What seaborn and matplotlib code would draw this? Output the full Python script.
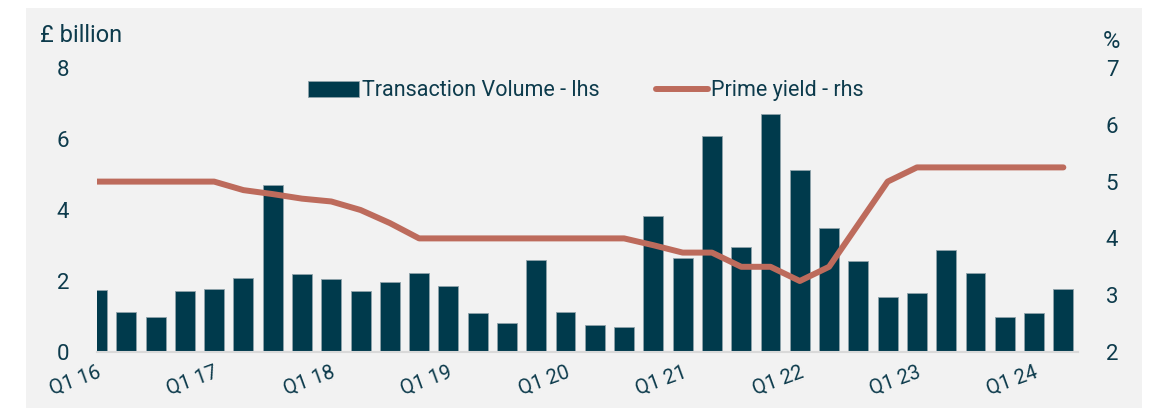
import numpy as np
import pandas as pd
import seaborn as sns
import matplotlib.pyplot as plt
from matplotlib.patches import Rectangle

# quarterly data Q1 16 .. Q2 24
quarters = [f"Q{q} {y}" for y in range(16, 25) for q in range(1, 5)][:34]
volume = [1.75, 1.14, 0.98, 1.73, 1.78, 2.08, 4.70, 2.21, 2.05, 1.73,
          1.96, 2.23, 1.87, 1.10, 0.81, 2.60, 1.13, 0.75, 0.71, 3.83,
          2.65, 6.08, 2.95, 6.71, 5.12, 3.50, 2.57, 1.56, 1.65, 2.88,
          2.22, 0.98, 1.09, 1.77]
prime_yield = [5.0, 5.0, 5.0, 5.0, 5.0, 4.85, 4.78, 4.7, 4.65, 4.5,
               4.27, 4.0, 4.0, 4.0, 4.0, 4.0, 4.0, 4.0, 4.0, 3.88,
               3.75, 3.75, 3.5, 3.5, 3.25, 3.5, 4.25, 5.0, 5.25, 5.25,
               5.25, 5.25, 5.25, 5.25]
tick_labels = ["Q1 16", "Q1 17", "Q1 18", "Q1 19", "Q1 20", "Q1 21", "Q1 22", "Q1 23", "Q1 24"]

df = pd.DataFrame({"quarter": quarters, "volume": volume, "yield": prime_yield})
df["pos"] = np.arange(len(df))

BAR = "#003a4c"
LINE = "#bd6b5c"
TXT = "#0d3b4c"
BG = "#f2f2f2"

sns.set_style("white")
plt.rcParams["font.family"] = ["Roboto", "DejaVu Sans"]

fig = plt.figure(figsize=(11.53, 4.09), dpi=100)
fig.patch.set_facecolor("white")
fig.patches.append(Rectangle((26 / 1153, 1 - 408 / 409), (1142 - 26) / 1153, 400 / 409,
                             transform=fig.transFigure, facecolor=BG, edgecolor="none", zorder=-5))

ax = fig.add_axes([97 / 1153, 1 - 352 / 409, (1078 - 97) / 1153, 284 / 409])
ax.set_facecolor("none")
sns.barplot(data=df, x="quarter", y="volume", color=BAR, width=0.68, saturation=1,
            edgecolor="#8fa3aa", linewidth=0.6, ax=ax, label="Transaction Volume - lhs")
ax.set_xlim(0, 33.5)
ax.set_ylim(0, 8)
ax.set_yticks([0, 2, 4, 6, 8])
ax.set_xticks(range(0, 34, 4))
ax.set_xticklabels(tick_labels, rotation=20, ha="right", rotation_mode="anchor")
ax.set_xlabel("")
ax.set_ylabel("")
for s in ["top", "right", "left"]:
    ax.spines[s].set_visible(False)
ax.spines["bottom"].set_color("#d9d9d9")
ax.spines["bottom"].set_linewidth(1.5)
ax.tick_params(axis="x", colors="#d9d9d9", length=5, width=1.2, labelcolor=TXT, labelsize=14.5, pad=3)
ax.tick_params(axis="y", length=0, labelcolor=TXT, labelsize=16, pad=20)

ax2 = ax.twinx()
sns.lineplot(data=df, x="pos", y="yield", color=LINE, linewidth=4.3, ax=ax2,
             label="Prime yield - rhs", solid_capstyle="round")
ax2.set_ylim(2, 7)
ax2.set_yticks([2, 3, 4, 5, 6, 7])
ax2.set_xlim(0, 33.5)
ax2.set_ylabel("")
ax2.set_xlabel("")
for s in ["top", "right", "left", "bottom"]:
    ax2.spines[s].set_visible(False)
ax2.tick_params(axis="y", length=0, labelcolor=TXT, labelsize=16, pad=20)

h1, l1 = ax.get_legend_handles_labels()
h2, l2 = ax2.get_legend_handles_labels()
if ax.get_legend():
    ax.get_legend().remove()
ax2.legend(h1 + h2, l1 + l2, loc="center", bbox_to_anchor=(0.498, 0.92), ncol=2, frameon=False,
           fontsize=15.5, labelcolor=TXT, handlelength=2.4, handleheight=0.75,
           handletextpad=0.15, columnspacing=2.6)

fig.text(40 / 1153, 1 - 36 / 409, "£ billion", color=TXT, fontsize=17, va="center", ha="left")
fig.text(1111 / 1153, 1 - 41 / 409, "%", color=TXT, fontsize=17, va="center", ha="center")

fig.savefig("out.png", dpi=100, facecolor=fig.get_facecolor())
